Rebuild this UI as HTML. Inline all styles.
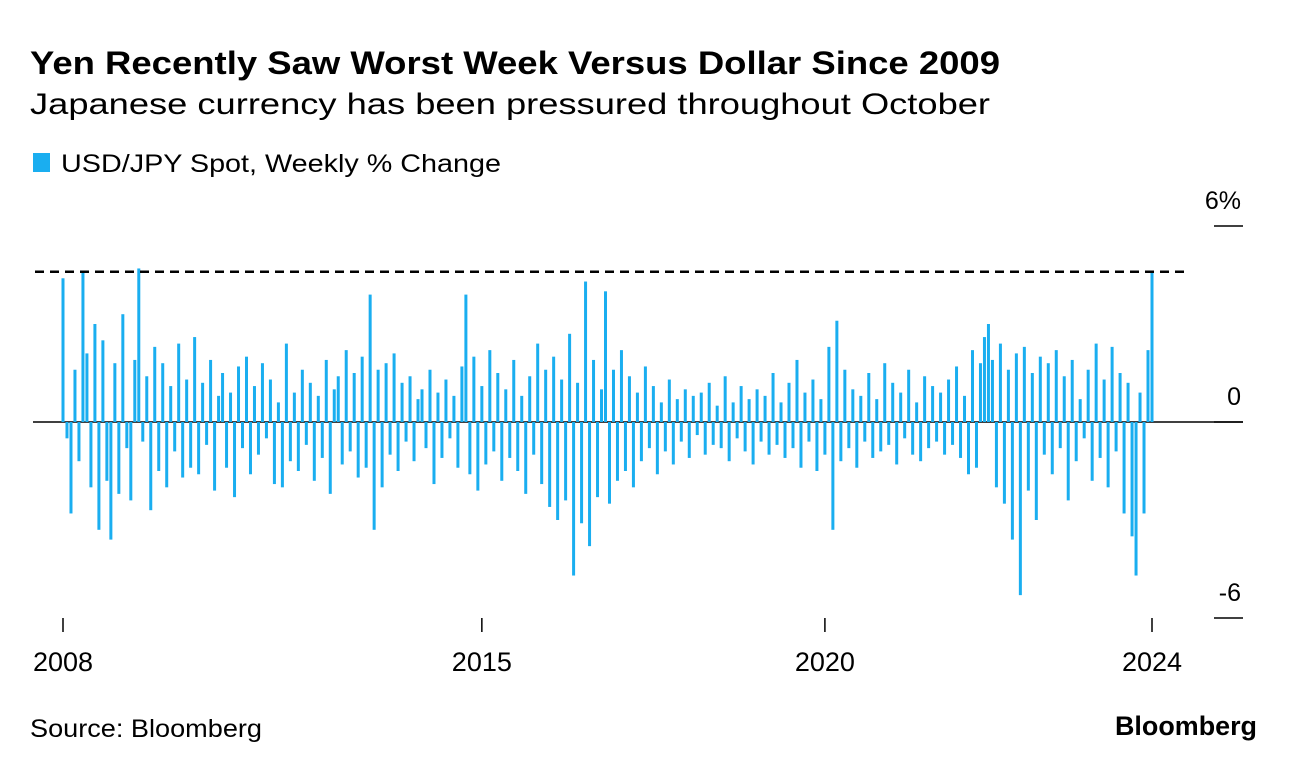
<!DOCTYPE html>
<html><head><meta charset="utf-8"><style>
body{margin:0;background:#fff;width:1296px;height:770px;overflow:hidden;font-family:"Liberation Sans",Arial,sans-serif;}
</style></head><body>
<svg width="1296" height="770" xmlns="http://www.w3.org/2000/svg">
<text x="30" y="74" font-size="32" font-weight="bold" fill="#000" textLength="970" lengthAdjust="spacingAndGlyphs">Yen Recently Saw Worst Week Versus Dollar Since 2009</text>
<text x="30" y="114" font-size="30" fill="#000" textLength="960" lengthAdjust="spacingAndGlyphs">Japanese currency has been pressured throughout October</text>
<rect x="33" y="153" width="17" height="19" fill="#1aaef0"/>
<text x="61" y="172" font-size="25" fill="#000" textLength="440" lengthAdjust="spacingAndGlyphs">USD/JPY Spot, Weekly % Change</text>
<g id="ygrid"></g>
<g id="bars"></g>
<g id="xaxis"></g>
<text x="30" y="737" font-size="25" fill="#000" textLength="232" lengthAdjust="spacingAndGlyphs">Source: Bloomberg</text>
<text x="1115" y="735" font-size="27" font-weight="bold" fill="#000" textLength="142" lengthAdjust="spacingAndGlyphs">Bloomberg</text>
</svg>
<script>
const values=[4.4,-0.5,-2.8,1.6,-1.2,4.6,2.1,-2.0,3.0,-3.3,2.5,-1.8,-3.6,1.8,-2.2,3.3,-0.8,-2.4,1.9,4.7,
-0.6,1.4,-2.7,2.3,-1.5,1.8,-2.0,1.1,-0.9,2.4,-1.7,1.3,-1.4,2.6,-1.6,1.2,-0.7,1.9,-2.1,0.8,
1.5,-1.4,0.9,-2.3,1.7,-0.8,2.0,-1.6,1.1,-1.0,1.8,-0.5,1.3,-1.9,0.6,-2.0,2.4,-1.2,0.9,-1.5,
1.6,-0.7,1.2,-1.8,0.8,-1.1,1.9,-2.2,1.0,1.4,-1.3,2.2,-0.9,1.5,-1.7,2.0,-1.4,3.9,-3.3,1.6,
-2.0,1.8,-1.0,2.1,-1.5,1.2,-0.6,1.4,-1.2,0.7,1.0,-0.8,1.6,-1.9,0.9,-1.1,1.3,-0.5,0.8,-1.4,
1.7,3.9,-1.6,2.0,-2.1,1.1,-1.3,2.2,-0.9,1.5,-1.8,1.0,-1.1,1.9,-1.5,0.8,-2.2,1.4,-1.0,2.4,
-1.9,1.6,-2.6,2.0,-3.0,1.3,-2.4,2.7,-4.7,1.2,-3.1,4.3,-3.8,1.9,-2.3,1.0,4.0,-2.5,1.6,-1.8,
2.2,-1.5,1.4,-2.0,0.9,-1.2,1.7,-0.8,1.1,-1.6,0.6,-0.9,1.3,-1.3,0.7,-0.6,1.0,-1.1,0.8,-0.4,
0.9,-1.0,1.2,-0.7,0.5,-0.8,1.4,-1.2,0.6,-0.5,1.1,-0.9,0.7,-1.3,1.0,-0.6,0.8,-1.0,1.5,-0.7,
0.6,-1.1,1.2,-0.8,1.9,-1.4,0.9,-0.6,1.3,-1.5,0.7,-1.0,2.3,-3.3,3.1,-1.2,1.6,-0.8,1.0,-1.4,
0.8,-0.6,1.5,-1.1,0.7,-0.9,1.8,-0.7,1.2,-1.3,0.9,-0.5,1.6,-1.0,0.6,-1.2,1.4,-0.8,1.1,-0.6,
0.9,-1.0,1.3,-0.7,1.7,-1.1,0.8,-1.6,2.2,-1.4,1.8,2.6,3.0,1.9,-2.0,2.4,-2.5,1.6,-3.6,2.1,
-5.3,2.3,-2.1,1.5,-3.0,2.0,-1.0,1.8,-1.6,2.2,-0.8,1.4,-2.4,1.9,-1.2,0.7,-0.5,1.6,-1.8,2.4,
-1.1,1.3,-2.0,2.3,-0.9,1.5,-2.8,1.2,-3.5,-4.7,0.9,-2.8,2.2,4.6];
const xTickLabels=["2008","2015","2020","2024"];
const xTickIndex=[0,105,191,273];
const yTickValues=[6,0,-6];
const yTickLabels=["6%","0","-6"];
const refLine=4.6;
const NS="http://www.w3.org/2000/svg";
const X0=63,X1=1152;
const xs=i=>X0+(X1-X0)*i/(values.length-1);
const ys=v=>422-v*(196/6);
function mk(t,a,p){const e=document.createElementNS(NS,t);for(const k in a)e.setAttribute(k,a[k]);p.appendChild(e);return e;}
const yg=document.getElementById('ygrid');
yTickValues.forEach((v,k)=>{
 const l=mk('line',{x1:1214,x2:1243,y1:ys(v),y2:ys(v),stroke:'#000','stroke-width':1.5},yg);
 
 
 const t=mk('text',{x:1241,y:ys(v)-17,'font-size':25,'text-anchor':'end',fill:'#000'},yg);
 t.textContent=yTickLabels[k];
 
 
});
const z=mk('line',{x1:33,x2:1243,y1:ys(0),y2:ys(0),stroke:'#000','stroke-width':1.5},yg);


const bg=document.getElementById('bars');
values.forEach((v,i)=>{
 const y=Math.min(ys(v),ys(0)),h=Math.abs(ys(v)-ys(0));
 const r=mk('rect',{x:xs(i)-1.5,y:y,width:3,height:Math.max(h,0.5),fill:'#1aaef0'},bg);
 
 
});
const d=mk('line',{x1:35,x2:1184,y1:ys(refLine),y2:ys(refLine),stroke:'#000','stroke-width':2.5,'stroke-dasharray':'9,6'},bg);


const xa=document.getElementById('xaxis');
xTickIndex.forEach((ix,k)=>{
 const x=xs(ix);
 const l=mk('line',{x1:x,x2:x,y1:618,y2:632,stroke:'#000','stroke-width':1.5},xa);
 
 
 const t=mk('text',{x:x,y:671,'font-size':27,'text-anchor':'middle',fill:'#000'},xa);
 t.textContent=xTickLabels[k];
 
 
});
</script>
</body></html>
